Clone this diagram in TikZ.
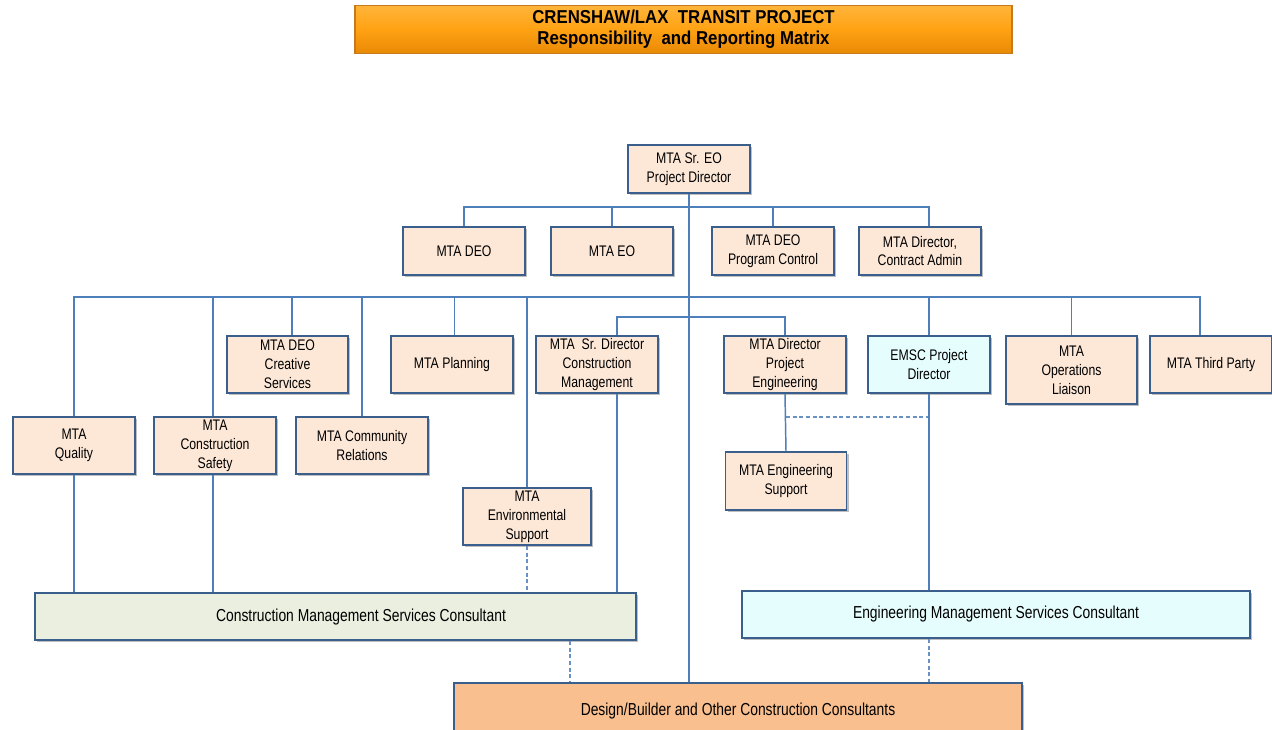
\documentclass[tikz,border=0pt]{standalone}
\usepackage{fontspec}
\setmainfont{Liberation Sans}[FakeStretch=0.8]
\newfontfamily\titlefont{Liberation Sans}[FakeStretch=0.9]
\usetikzlibrary{shadows,calc}
\definecolor{boxfill}{HTML}{FDE8D8}
\definecolor{boxline}{HTML}{3A5F8C}
\definecolor{connline}{HTML}{4F7FBA}
\definecolor{cyanfill}{HTML}{E6FDFE}
\definecolor{greenfill}{HTML}{EBEFDF}
\definecolor{dbfill}{HTML}{F9BF8F}
\definecolor{titletop}{HTML}{FFB43A}
\definecolor{titlemid}{HTML}{FFA213}
\definecolor{titlebot}{HTML}{E98A05}
\definecolor{titleline}{HTML}{C77A1C}
\tikzset{
  wh/.style 2 args={minimum width=#1*0.75pt, minimum height=#2*0.75pt},
  box/.style={draw=boxline, line width=1.4pt, fill=boxfill, inner sep=0pt,
    align=center, font=\fontsize{11.5}{14.2}\selectfont,
    drop shadow={shadow xshift=1.6pt, shadow yshift=-1.6pt, opacity=0.45, fill=black!55}},
  bigtext/.style={font=\fontsize{13}{15}\selectfont, inner sep=0pt},
  conn/.style={draw=connline, line width=1.1pt},
  dconn/.style={draw=connline!85, line width=1.1pt, dash pattern=on 3pt off 2pt},
}
\begin{document}
\begin{tikzpicture}[x=0.75pt, y=-0.75pt]
\fill[white] (0,0) rectangle (1272,730);
\useasboundingbox (0,0) rectangle (1272,730);

% title
\node[draw=titleline, line width=1.2pt, top color=titletop, bottom color=titlebot, middle color=titlemid,
  wh={657}{48}, inner sep=0pt, align=center,
  font=\titlefont\bfseries\fontsize{14}{15.8}\selectfont] (title) at (683.5,29.5)
  {CRENSHAW/LAX\ \ TRANSIT PROJECT\\Responsibility\ \ and Reporting Matrix};

% boxes
\node[box, wh={122}{48}] (pd) at (689,169) {MTA Sr. EO\\Project Director};
\node[box, wh={122}{48}] (deo) at (464,251) {MTA DEO};
\node[box, wh={122}{48}] (eo) at (612,251) {MTA EO};
\node[box, wh={122}{48}] (deopc) at (773,251) {MTA DEO\\Program Control};
\node[box, wh={122}{48}] (dca) at (920,251) {MTA Director,\\Contract Admin};

\node[box, wh={121}{57}] (creative) at (287.5,364.5) {MTA DEO\\Creative\\Services};
\node[box, wh={122}{57}] (planning) at (452,364.5) {MTA Planning};
\node[box, wh={122}{57}] (srdir) at (597,364.5) {MTA\ \ Sr. Director\\Construction\\Management};
\node[box, wh={122}{57}] (dpe) at (785,364.5) {MTA Director\\Project\\Engineering};
\node[box, wh={122}{57}, fill=cyanfill] (emsc) at (929,364.5) {EMSC Project\\Director};
\node[box, wh={131}{68}] (ops) at (1071.5,370) {MTA\\Operations\\Liaison};
\node[box, wh={122}{57}] (third) at (1211,364.5) {MTA Third Party};

\node[box, wh={122}{57}] (quality) at (74,445.5) {MTA\\Quality};
\node[box, wh={122}{57}] (safety) at (215,445.5) {MTA\\Construction\\Safety};
\node[box, wh={132}{57}] (community) at (362,445.5) {MTA Community\\Relations};
\node[box, wh={121}{58}] (engsup) at (786,481) {MTA Engineering\\Support};
\node[box, wh={128}{57}] (env) at (527,516.5) {MTA\\Environmental\\Support};

\node[box, wh={601}{47}, fill=greenfill] (cmsc) at (335.5,616.5) {};
\node[bigtext] (cmsctext) at (361,617) {Construction Management Services Consultant};
\node[box, wh={508}{47}, fill=cyanfill, bigtext] (emscc) at (996,614.5) {Engineering Management Services Consultant};
\node[box, wh={568}{56}, fill=dbfill, bigtext] (db) at (738,711) {Design/Builder and Other Construction Consultants};

% named coordinates
\coordinate (busA) at (689,207);
\coordinate (busB) at (689,297);
\coordinate (busC) at (689,317);
\coordinate (dj) at (786,417);
\coordinate (cd) at ($(cmsc.south)+(234.5,0)$);
\coordinate (tp) at ($(third.north)+(-11,0)$);

% connectors
\draw[conn] (pd.south) -- (pd.south |- db.north);
\draw[conn] (deo.north) |- (busA -| emsc.north) -- (emsc.north |- dca.north);
\draw[conn] (eo.north) -- (eo.north |- busA);
\draw[conn] (deopc.north) -- (deopc.north |- busA);

\draw[conn] (quality.north) |- (busB -| tp) -- (tp);
\draw[conn] ([xshift=-1.5pt]safety.north) -- ([xshift=-1.5pt]safety.north |- busB);
\draw[conn] ([xshift=3.4pt]creative.north) -- ([xshift=3.4pt]creative.north |- busB);
\draw[conn] (community.north) -- (community.north |- busB);
\draw[conn] ([xshift=2pt]planning.north) -- ([xshift=2pt]planning.north |- busB);
\draw[conn] (env.north) -- (env.north |- busB);
\draw[conn] (emsc.north) -- (emsc.north |- busB);
\draw[conn] (ops.north) -- (ops.north |- busB);

\draw[conn] ([xshift=15pt]srdir.north) |- (busC -| dpe.north) -- (dpe.north);
\draw[conn] (dpe.south) -- (engsup.north);
\draw[dconn] (dj) -- (dj -| emsc.south);

\draw[conn] ([xshift=15pt]srdir.south) -- ([xshift=15pt]srdir.south |- cmsc.north);
\draw[conn] (quality.south) -- (quality.south |- cmsc.north);
\draw[conn] ([xshift=-1.5pt]safety.south) -- ([xshift=-1.5pt]safety.south |- cmsc.north);
\draw[dconn] (env.south) -- (env.south |- cmsc.north);
\draw[conn] (emsc.south) -- (emsc.south |- emscc.north);

\draw[dconn] (cd) -- (cd |- db.north);
\draw[dconn] (emsc.south |- emscc.south) -- (emsc.south |- db.north);
\end{tikzpicture}
\end{document}
